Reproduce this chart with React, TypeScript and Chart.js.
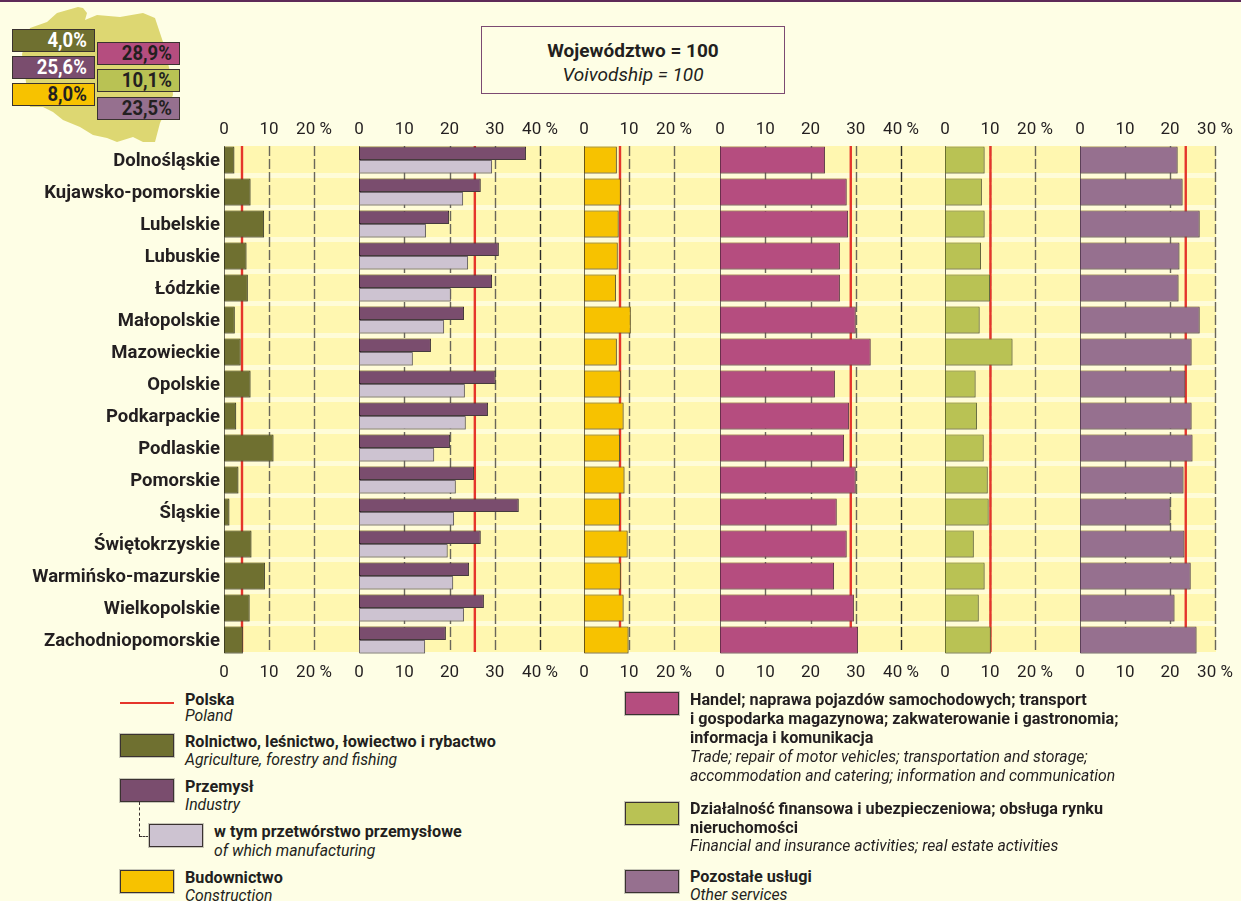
import React, { useEffect, useRef } from "react";
import { Chart, registerables } from "chart.js";

Chart.register(...registerables);

const categories = ["Dolnośląskie","Kujawsko-pomorskie","Lubelskie","Lubuskie","Łódzkie","Małopolskie","Mazowieckie","Opolskie","Podkarpackie","Podlaskie","Pomorskie","Śląskie","Świętokrzyskie","Warmińsko-mazurskie","Wielkopolskie","Zachodniopomorskie"];
const agriculture = [2.3,5.9,8.9,5.0,5.3,2.4,3.7,5.9,2.7,11.0,3.2,1.2,6.1,9.1,5.7,4.2];
const industry = [36.9,26.9,19.9,30.9,29.4,23.2,15.9,30.2,28.5,20.1,25.4,35.3,26.9,24.3,27.6,19.2];
const manufacturing = [29.4,23.0,14.8,24.1,20.3,18.8,11.9,23.4,23.6,16.6,21.4,21.0,19.6,20.8,23.2,14.6];
const construction = [7.3,8.2,7.7,7.5,7.1,10.4,7.3,8.2,8.8,8.0,9.0,8.0,9.7,8.2,8.8,9.9];
const trade = [23.2,28.0,28.3,26.5,26.5,30.0,33.3,25.4,28.5,27.4,30.0,25.8,28.0,25.2,29.6,30.5];
const finance = [8.8,8.2,8.8,8.0,10.0,7.7,15.0,6.8,7.1,8.6,9.5,9.7,6.4,8.8,7.5,10.2];
const otherServices = [21.7,22.8,26.6,22.1,21.9,26.6,24.8,23.4,24.8,25.0,23.0,20.1,23.2,24.6,21.0,25.9];
const polandValues = [4.0,25.6,8.0,28.9,10.1,23.5];
const polandLabels = ["4,0%","25,6%","8,0%","28,9%","10,1%","23,5%"];
const ticks20 = [0,10,20];
const ticks30 = [0,10,20,30];
const ticks40 = [0,10,20,30,40];

const FONT = 'Roboto, "Liberation Sans", sans-serif';
const INK = "#231f20";
const RED = "#e5352b";
const OLIVE = "#6f7030";
const PLUM = "#7a4d6e";
const LILAC = "#cdc3d1";
const AMBER = "#f7c200";
const ROSE = "#b54d7f";
const LIME = "#b9c254";
const MAUVE = "#96708f";
const PX_PER_UNIT = 4.525;
const AREA_TOP = 144;
const AREA_H = 512;
const AXIS_H = 26;
const BAND_TOP = 146;
const BAND_BOTTOM = 652;

type Series = { data: number[]; color: string; border: string };
type Panel = { x0: number; ticks: number[]; national: number; series: Series[]; labels?: boolean; dark?: boolean };

const panels: Panel[] = [
  { x0: 224, ticks: ticks20, national: polandValues[0], series: [{ data: agriculture, color: OLIVE, border: "#3f3f20" }], labels: true },
  { x0: 359, ticks: ticks40, national: polandValues[1], dark: true, series: [{ data: industry, color: PLUM, border: "#35222f" }, { data: manufacturing, color: LILAC, border: "#746a72" }] },
  { x0: 584, ticks: ticks20, national: polandValues[2], series: [{ data: construction, color: AMBER, border: "#6b5616" }] },
  { x0: 720, ticks: ticks40, national: polandValues[3], dark: true, series: [{ data: trade, color: ROSE, border: "#6b2f4c" }] },
  { x0: 945, ticks: ticks20, national: polandValues[4], series: [{ data: finance, color: LIME, border: "#6a7030" }] },
  { x0: 1080, ticks: ticks30, national: polandValues[5], series: [{ data: otherServices, color: MAUVE, border: "#5c4058" }] },
];

const gridPlugin = {
  id: "panelGrid",
  beforeDatasetsDraw(chart: any, _a: any, opts: any) {
    const { ctx, scales } = chart;
    const x = scales.x;
    const h = BAND_BOTTOM - BAND_TOP;
    const y0 = chart.chartArea.top + (BAND_TOP - AREA_TOP);
    ctx.save();
    x.ticks.forEach((t: any, i: number) => {
      const px = Math.round(x.getPixelForValue(t.value)) + 0.5;
      ctx.strokeStyle = i === x.ticks.length - 1 && opts.dark ? "#2b2b2b" : "#6a675a";
      ctx.lineWidth = i === 0 ? 1 : 1.4;
      ctx.setLineDash(i === 0 ? [] : [10, 3]);
      ctx.beginPath();
      ctx.moveTo(px, y0);
      ctx.lineTo(px, y0 + h);
      ctx.stroke();
    });
    const nx = x.getPixelForValue(opts.national);
    ctx.setLineDash([]);
    ctx.lineWidth = 2.4;
    ctx.strokeStyle = RED;
    ctx.beginPath();
    ctx.moveTo(nx, y0);
    ctx.lineTo(nx, y0 + h);
    ctx.stroke();
    ctx.restore();
    ctx.save();
    ctx.shadowColor = "rgba(90,90,80,0.45)";
    ctx.shadowOffsetX = 1;
    ctx.shadowOffsetY = 1;
    ctx.shadowBlur = 0;
  },
  afterDatasetsDraw(chart: any) {
    chart.ctx.restore();
  },
};

function PanelChart({ panel }: { panel: Panel }) {
  const ref = useRef<HTMLCanvasElement | null>(null);
  const padL = panel.labels ? panel.x0 : 30;
  const padR = 45;
  const max = panel.ticks[panel.ticks.length - 1];
  const areaW = max * PX_PER_UNIT;
  useEffect(() => {
    const setTicks = (s: any) => {
      s.ticks = panel.ticks.map((value) => ({ value }));
    };
    const xCommon = {
      type: "linear" as const,
      min: 0,
      max,
      afterBuildTicks: setTicks,
      afterFit: (s: any) => { s.height = AXIS_H; },
      border: { display: false },
      grid: { display: false, drawTicks: false },
      ticks: {
        autoSkip: false,
        maxRotation: 0,
        color: INK,
        padding: 7,
        font: { family: FONT, size: 17 },
        callback: (v: any) => (v === max ? `${v} %` : `${v}`),
      },
    };
    const chart = new Chart(ref.current as HTMLCanvasElement, {
      type: "bar",
      data: {
        labels: categories,
        datasets: panel.series.map((s) => ({
          data: s.data,
          backgroundColor: s.color,
          borderColor: s.border,
          borderWidth: 1,
          borderSkipped: false,
          categoryPercentage: 27 / 32,
          barPercentage: 1,
          xAxisID: "x",
          yAxisID: "y",
        })),
      },
      options: {
        indexAxis: "y",
        animation: false,
        responsive: false,
        devicePixelRatio: 1,
        layout: { padding: { left: panel.labels ? 0 : padL, right: padR, top: 0, bottom: 0 } },
        plugins: { legend: { display: false }, tooltip: { enabled: false }, panelGrid: { dark: panel.dark, national: panel.national } } as any,
        scales: {
          x: { ...xCommon, position: "bottom" },
          xTop: { ...xCommon, axis: "x", position: "top", ticks: { ...xCommon.ticks, padding: 4 } },
          y: {
            type: "category",
            display: !!panel.labels,
            afterFit: panel.labels ? (s: any) => { s.width = panel.x0; } : undefined,
            border: { display: false },
            grid: { display: false, drawTicks: false },
            ticks: {
              autoSkip: false,
              color: INK,
              padding: 4,
              labelOffset: 1.5,
              font: { family: FONT, size: 18.5, weight: "bold" },
            },
          },
        },
      } as any,
      plugins: [gridPlugin],
    });
    return () => chart.destroy();
  }, []);
  return (
    <canvas
      ref={ref}
      width={padL + areaW + padR}
      height={AREA_H + AXIS_H * 2}
      style={{ position: "absolute", left: panel.x0 - padL, top: AREA_TOP - AXIS_H, display: "block" }}
    />
  );
}

const abs = (left: number, top: number, extra: React.CSSProperties = {}): React.CSSProperties => ({
  position: "absolute", left, top, ...extra,
});

function Swatch({ x, y, w = 54, h = 23, color }: { x: number; y: number; w?: number; h?: number; color: string }) {
  return <div style={abs(x, y, { width: w, height: h, boxSizing: "border-box", background: color, border: "1px solid #3a3230", boxShadow: "0 0 0 1px #c9c8b8" })} />;
}

function LegendLine({ x, y, text, italic }: { x: number; y: number; text: string; italic?: boolean }) {
  return (
    <div style={abs(x, y - 10, { font: `${italic ? "italic 15.75px" : "bold 16.2px"}/20px ${FONT}`, color: INK, whiteSpace: "nowrap" })}>{text}</div>
  );
}

function Kpi({ x, y, color, text, white }: { x: number; y: number; color: string; text: string; white?: boolean }) {
  return (
    <div style={abs(x, y, { width: 83, height: 23, boxSizing: "border-box", background: color, border: "1px solid #3a3230", color: white ? "#fff" : INK, font: `bold 21px/21px ${FONT}`, textAlign: "right", paddingRight: 7 })}>
      <span style={{ display: "inline-block", transform: "scaleX(0.88)", transformOrigin: "right" }}>{text}</span>
    </div>
  );
}

export default function App() {
  return (
    <div style={{ position: "absolute", left: 0, top: 0, width: 1241, height: 901, background: "#fefee5", overflow: "hidden", fontFamily: FONT }}>
      <div style={abs(0, 0, { width: 1241, height: 2, background: "#5e2a58" })} />

      <svg width={190} height={150} style={abs(0, 0)}>
        <path
          d="M30 28 L47 22 L57 13 L78 7 L83 8 L87 13 L85 20 L97 15 L120 17 L143 13 L155 18 L160 33 L163 42 L172 80 L173 95 L160 123 L155 142 L143 142 L133 137 L117 142 L107 138 L93 135 L80 127 L63 120 L53 112 L43 107 L30 107 L26 82 L22 54 Z"
          fill="#ddd772"
        />
      </svg>
      <Kpi x={12} y={29} color={OLIVE} text={polandLabels[0]} white />
      <Kpi x={12} y={56} color={PLUM} text={polandLabels[1]} white />
      <Kpi x={12} y={83} color={AMBER} text={polandLabels[2]} />
      <Kpi x={97} y={42} color={ROSE} text={polandLabels[3]} />
      <Kpi x={97} y={69} color={LIME} text={polandLabels[4]} />
      <Kpi x={97} y={97} color={MAUVE} text={polandLabels[5]} />

      <div style={abs(481, 26, { width: 304, height: 68, boxSizing: "border-box", border: "1px solid #7c4a72", textAlign: "center", color: INK, paddingTop: 12 })}>
        <div style={{ font: `bold 19px/24px ${FONT}` }}>Województwo = 100</div>
        <div style={{ font: `italic 19px/23px ${FONT}` }}>Voivodship = 100</div>
      </div>

      <div
        style={abs(224, BAND_TOP, {
          width: 992,
          height: BAND_BOTTOM - BAND_TOP,
          background: "repeating-linear-gradient(to bottom, #fff7b0 0px, #fff7b0 27px, #fffcd8 27px, #fffcd8 32px)",
        })}
      />

      {panels.map((p) => <PanelChart key={p.x0} panel={p} />)}

      <div style={abs(120, 702, { width: 54, height: 2, background: RED })} />
      <LegendLine x={185} y={700} text="Polska" />
      <LegendLine x={185} y={716} text="Poland" italic />
      <Swatch x={120} y={734} color={OLIVE} />
      <LegendLine x={185} y={742} text="Rolnictwo, leśnictwo, łowiectwo i rybactwo" />
      <LegendLine x={185} y={760} text="Agriculture, forestry and fishing" italic />
      <Swatch x={120} y={779} color={PLUM} />
      <LegendLine x={185} y={787} text="Przemysł" />
      <LegendLine x={185} y={805} text="Industry" italic />
      <div style={abs(139, 802, { width: 9, height: 34, borderLeft: "1px dashed #3a3230", borderBottom: "1px dashed #3a3230" })} />
      <Swatch x={149} y={824} color={LILAC} />
      <LegendLine x={214} y={832} text="w tym przetwórstwo przemysłowe" />
      <LegendLine x={214} y={851} text="of which manufacturing" italic />
      <Swatch x={120} y={870} color={AMBER} />
      <LegendLine x={185} y={878} text="Budownictwo" />
      <LegendLine x={185} y={896} text="Construction" italic />

      <Swatch x={625} y={692} color={ROSE} />
      <LegendLine x={690} y={700} text="Handel; naprawa pojazdów samochodowych; transport" />
      <LegendLine x={690} y={719} text="i gospodarka magazynowa; zakwaterowanie i gastronomia;" />
      <LegendLine x={690} y={738} text="informacja i komunikacja" />
      <LegendLine x={690} y={757} text="Trade; repair of motor vehicles; transportation and storage;" italic />
      <LegendLine x={690} y={776} text="accommodation and catering; information and communication" italic />
      <Swatch x={625} y={802} color={LIME} />
      <LegendLine x={690} y={809} text="Działalność finansowa i ubezpieczeniowa; obsługa rynku" />
      <LegendLine x={690} y={828} text="nieruchomości" />
      <LegendLine x={690} y={846} text="Financial and insurance activities; real estate activities" italic />
      <Swatch x={625} y={870} color={MAUVE} />
      <LegendLine x={690} y={877} text="Pozostałe usługi" />
      <LegendLine x={690} y={895} text="Other services" italic />
    </div>
  );
}
